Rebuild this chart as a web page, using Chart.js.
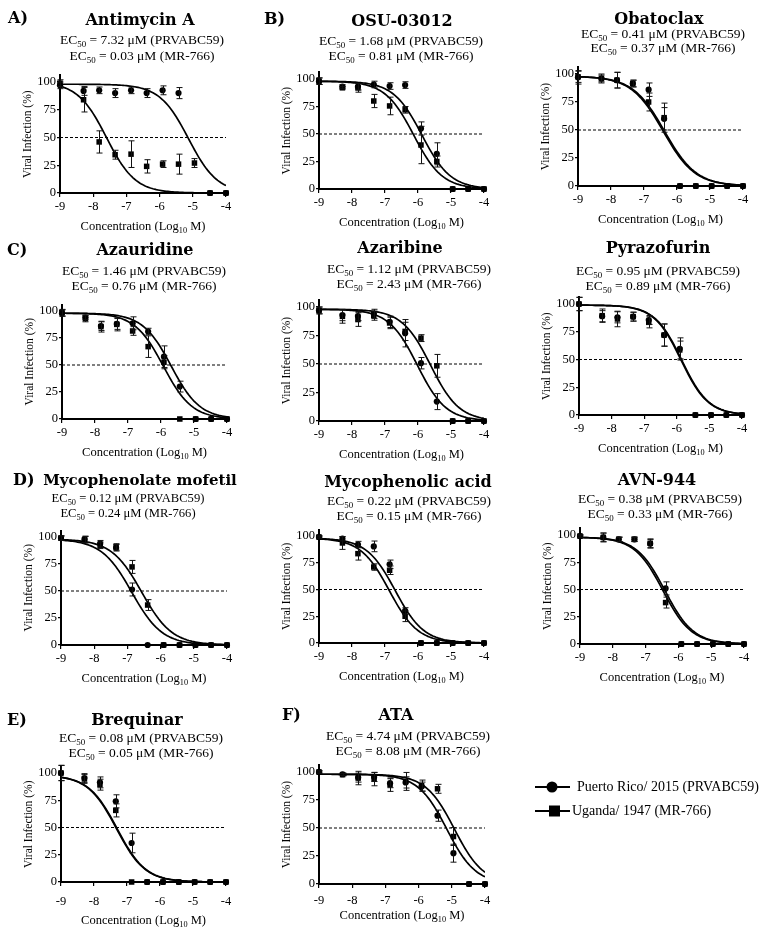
<!DOCTYPE html>
<html>
<head>
<meta charset="utf-8">
<script src="https://cdn.jsdelivr.net/npm/chart.js@4.4.1/dist/chart.umd.min.js"></script>
<style>
  html, body { margin: 0; padding: 0; background: #fff; }
  #figure { position: relative; width: 767px; height: 930px; }
  #figure canvas { position: absolute; left: 0; top: 0; }
</style>
</head>
<body>
<div id="figure"></div>
<script>
// log10 molar concentrations (the untreated control is plotted at -9)
const conc = [-9, -8.29, -7.82, -7.34, -6.86, -6.39, -5.91, -5.43, -4.95, -4.48, -4];
const xTicks = [-9, -8, -7, -6, -5, -4];
const yTicks = [0, 25, 50, 75, 100];

const drugNames = ['Antimycin A', 'OSU-03012', 'Obatoclax', 'Azauridine', 'Azaribine', 'Pyrazofurin',
    'Mycophenolate mofetil', 'Mycophenolic acid', 'AVN-944', 'Brequinar', 'ATA'];
const ec50PR = ['7.32', '1.68', '0.41', '1.46', '1.12', '0.95', '0.12', '0.22', '0.38', '0.08', '4.74'];
const ec50UG = ['0.03', '0.81', '0.37', '0.76', '2.43', '0.89', '0.24', '0.15', '0.33', '0.05', '8.08'];

// Puerto Rico/2015 (PRVABC59), circles: mean % infection per concentration
const prMean = [
    [97, 92, 92.5, 90, 92.5, 90, 92.5, 90, null, 0, 0],   // Antimycin A
    [98, 93, 93, 95, 93.6, 94.5, 55, 32, 0, 0, 0],        // OSU-03012
    [97, 96, 94.5, 91.5, 86, 60, 0, 0, 0, 0, 0],          // Obatoclax
    [98, 94, 86, 88, 88.6, 81, 57.7, 30, 0, 0, 0],        // Azauridine
    [97, 93, 92, 94, 87, 77, 50.7, 17, 0, 0, 0],          // Azaribine
    [100, 89, 88, 88.6, 85.6, 72, 59.5, 0, 0, 0, 0],      // Pyrazofurin
    [99, 97.8, 93.8, 90, 51.4, 0, 0, 0, 0, 0, 0],         // Mycophenolate mofetil
    [99, 97.5, 92, 90.3, 73.5, 30, 0, 0, 0, 0, 0],        // Mycophenolic acid
    [99, 97.8, 96, 96, 92, 51, 0, 0, 0, 0, 0],            // AVN-944
    [100, 95.4, 91.4, 74, 35.8, 0, 0, 0, 0, 0, 0],        // Brequinar
    [100, 98, 95, 95.5, 90, 90.7, 87, 61, 27.5, 0, 0]     // ATA
];
const prErr = [
    [3, 4, 3, 4, 3, 4, 4, 5, 0, 0, 0],
    [3, 2, 3, 3, 3, 3, 6, 10, 0, 0, 0],
    [6, 4, 7, 3, 6, 10, 0, 0, 0, 0, 0],
    [3, 2, 4, 5, 6, 3, 10, 5, 0, 0, 0],
    [3, 5, 4, 4, 5, 12, 5, 7, 0, 0, 0],
    [6, 5, 5, 4, 4, 10, 10, 0, 0, 0, 0],
    [2, 3, 3, 3, 6, 0, 0, 0, 0, 0, 0],
    [1, 2, 3, 5, 4, 3, 0, 0, 0, 0, 0],
    [1, 4, 2, 2, 4, 6, 0, 0, 0, 0, 0],
    [7, 4, 5, 6, 9, 0, 0, 0, 0, 0, 0],
    [1, 1, 4, 4, 4, 5, 4, 5, 8, 0, 0]
];

// Uganda/1947 (MR-766), squares
const ugMean = [
    [99, 84, 46, 34.5, 35, 24, 26, 26, 27, 0, 0],
    [98, 92, 92, 80, 75.5, 72, 40, 25, 0, 0, 0],
    [97.5, 96, 94.5, 91.5, 75, 61, 0, 0, 0, 0, 0],
    [98.5, 93, 85.5, 87.6, 81.5, 67, 52.5, 0, 0, 0, 0],
    [97, 91.8, 89, 92.4, 86, 78.6, 72.7, 48.4, 0, 0, 0],
    [100, 89.5, 86.5, 88.6, 83.5, 72, 58.6, 0, 0, 0, 0],
    [99, 97.5, 92.3, 90.8, 72.3, 37, 0, 0, 0, 0, 0],
    [99, 93.5, 83.5, 71, 68, 25, 0, 0, 0, 0, 0],
    [99, 97.8, 96, 96, 92.4, 38, 0, 0, 0, 0, 0],
    [100, 94.5, 89.3, 65.7, 0, 0, 0, 0, 0, 0, 0],
    [100, 97.6, 94.6, 93.7, 88.7, 91.6, 87.8, 85, 42.4, 0, 0]
];
const ugErr = [
    [3, 11, 10, 4, 12, 6, 3, 9, 4, 0, 0],
    [3, 1, 4, 6, 8, 3, 17, 5, 0, 0, 0],
    [5, 3, 7, 3, 8, 13, 0, 0, 0, 0, 0],
    [3, 3, 5, 6, 4, 10, 6, 0, 0, 0, 0],
    [3, 6, 6, 4, 5, 8, 3, 10, 0, 0, 0],
    [6, 6, 7, 4, 5, 10, 8, 0, 0, 0, 0],
    [2, 3, 3, 3, 6, 5, 0, 0, 0, 0, 0],
    [1, 6, 6, 3, 4, 5, 0, 0, 0, 0, 0],
    [1, 4, 2, 2, 4, 5, 0, 0, 0, 0, 0],
    [7, 4, 5, 6, 0, 0, 0, 0, 0, 0, 0],
    [1, 1, 6, 6, 6, 8, 5, 4, 8, 0, 0]
];

// fitted dose-response curves: [top, logEC50, hill slope]
const prFit = [[98, -5.13, 1], [98, -5.88, 1], [98, -6.38, 0.9], [98, -5.69, 1], [98, -6.02, 1], [99, -5.85, 1.05],
    [98, -6.87, 0.95], [98, -6.69, 1], [98, -6.41, 1], [98, -7.3, 1], [98, -5.15, 1]];
const ugFit = [[100, -7.6, 1], [98, -6.13, 1], [98, -6.42, 0.9], [98, -5.93, 1], [98, -5.62, 1], [99, -5.87, 1.05],
    [98, -6.57, 0.95], [98, -6.87, 1], [98, -6.47, 1], [98, -7.32, 1], [98, -4.92, 1]];

// where each panel sits on the page
const panels = [
    { letter: 'A)', lx: 8, ly: 23, left: 60, right: 226, y100: 82, y0: 193, titleX: 140, titleY: 25, ecX: 142, ec1Y: 44, ec2Y: 60 },
    { letter: 'B)', lx: 264, ly: 24, left: 319, right: 484, y100: 79, y0: 189, titleX: 402, titleY: 26, ecX: 401, ec1Y: 45, ec2Y: 60 },
    { letter: '', left: 578, right: 743, y100: 74, y0: 186, titleX: 659, titleY: 24, ecX: 663, ec1Y: 38, ec2Y: 52 },
    { letter: 'C)', lx: 7, ly: 255, left: 62, right: 227, y100: 311, y0: 419, titleX: 145, titleY: 255, ecX: 144, ec1Y: 275, ec2Y: 290 },
    { letter: '', left: 319, right: 484, y100: 307, y0: 421, titleX: 400, titleY: 253, ecX: 409, ec1Y: 273, ec2Y: 288 },
    { letter: '', left: 579, right: 742, y100: 304, y0: 415, titleX: 658, titleY: 253, ecX: 658, ec1Y: 275, ec2Y: 290 },
    { letter: 'D)', lx: 13, ly: 485, left: 61, right: 227, y100: 537, y0: 645, titleX: 140, titleY: 485, titleSize: 15, ecX: 128, ec1Y: 502, ec2Y: 517, ecSize: 12.6 },
    { letter: '', left: 319, right: 484, y100: 536, y0: 643, titleX: 408, titleY: 487, ecX: 409, ec1Y: 505, ec2Y: 520 },
    { letter: '', left: 580, right: 744, y100: 535, y0: 644, titleX: 657, titleY: 485, ecX: 660, ec1Y: 503, ec2Y: 518 },
    { letter: 'E)', lx: 7, ly: 725, left: 61, right: 226, y100: 773, y0: 882, titleX: 137, titleY: 725, ecX: 141, ec1Y: 742, ec2Y: 757, tickPad: 8, axisGap: 42 },
    { letter: 'F)', lx: 282, ly: 720, left: 319, right: 485, y100: 772, y0: 884, titleX: 396, titleY: 720, ecX: 408, ec1Y: 740, ec2Y: 755, tickPad: 5, axisGap: 35 }
];

const legendItems = [
    { label: 'Puerto Rico/ 2015 (PRVABC59)', style: 'circle', y: 787, tx: 577 },
    { label: 'Uganda/ 1947 (MR-766)', style: 'rect', y: 811, tx: 572 }
];

const SERIF = "'Liberation Serif', 'DejaVu Serif', serif";
const TITLE_FAMILY = "'DejaVu Serif', serif";
const PAGE_W = 767, PAGE_H = 930;
const Y_MAX = 106, Y_AXIS_W = 50, X_AXIS_H = 45;

// text with a lowered, smaller run (EC50, Log10)
function drawRich(ctx, parts, cx, y, size) {
    let w = 0;
    parts.forEach(([t, sub]) => {
        ctx.font = (sub ? size * 0.66 : size) + 'px ' + SERIF;
        w += ctx.measureText(t).width;
    });
    let x = cx - w / 2;
    ctx.textAlign = 'left';
    parts.forEach(([t, sub]) => {
        ctx.font = (sub ? size * 0.66 : size) + 'px ' + SERIF;
        ctx.fillText(t, x, sub ? y + size * 0.2 : y);
        x += ctx.measureText(t).width;
    });
}

const panelText = {
    id: 'panelText',
    afterDraw(chart, args, o) {
        const ctx = chart.ctx;
        const a = chart.chartArea;
        ctx.save();
        ctx.fillStyle = '#000';
        ctx.textBaseline = 'alphabetic';
        if (o.letter) {
            ctx.font = 'bold 16px ' + TITLE_FAMILY;
            ctx.textAlign = 'left';
            ctx.fillText(o.letter, o.lx, o.ly);
        }
        ctx.font = 'bold ' + (o.titleSize || 16) + 'px ' + TITLE_FAMILY;
        ctx.textAlign = 'center';
        ctx.fillText(o.title, o.titleX, o.titleY);
        const s = o.ecSize || 13.5;
        drawRich(ctx, [['EC'], ['50', true], [' = ' + o.pr + ' \u03bcM (PRVABC59)']], o.ecX, o.ec1Y, s);
        drawRich(ctx, [['EC'], ['50', true], [' = ' + o.ug + ' \u03bcM (MR-766)']], o.ecX, o.ec2Y, s);
        drawRich(ctx, [['Concentration (Log'], ['10', true], [' M)']], (a.left + a.right) / 2, a.bottom + (o.axisGap || 37), 12.5);
        ctx.restore();
    }
};

const errorBars = {
    id: 'errorBars',
    afterDatasetsDraw(chart) {
        const ctx = chart.ctx;
        const xs = chart.scales.x, ys = chart.scales.y;
        ctx.save();
        ctx.strokeStyle = '#111';
        ctx.lineWidth = 1;
        chart.data.datasets.forEach(ds => {
            if (!ds.withErrors) return;
            ds.data.forEach(pt => {
                if (!pt.err) return;
                const px = Math.round(xs.getPixelForValue(pt.x)) + 0.5;
                const top = ys.getPixelForValue(pt.y + pt.err);
                const bot = ys.getPixelForValue(Math.max(pt.y - pt.err, 0));
                ctx.beginPath();
                ctx.moveTo(px, top); ctx.lineTo(px, bot);
                ctx.moveTo(px - 3, top); ctx.lineTo(px + 3, top);
                ctx.moveTo(px - 3, bot); ctx.lineTo(px + 3, bot);
                ctx.stroke();
            });
        });
        ctx.restore();
    }
};

const figureLegend = {
    id: 'figureLegend',
    afterDraw(chart, args, o) {
        if (!o.show) return;
        const ctx = chart.ctx;
        ctx.save();
        ctx.fillStyle = '#000';
        ctx.strokeStyle = '#000';
        ctx.lineWidth = 2;
        ctx.font = '14px ' + SERIF;
        ctx.textBaseline = 'middle';
        legendItems.forEach(item => {
            ctx.beginPath();
            ctx.moveTo(535, item.y); ctx.lineTo(570, item.y);
            ctx.stroke();
            if (item.style === 'circle') {
                ctx.beginPath();
                ctx.arc(552, item.y, 5.5, 0, Math.PI * 2);
                ctx.fill();
            } else {
                ctx.fillRect(549, item.y - 5.5, 11, 11);
            }
            ctx.fillText(item.label, item.tx, item.y);
        });
        ctx.restore();
    }
};

function points(means, errs) {
    const out = [];
    conc.forEach((x, i) => {
        if (means[i] !== null) out.push({ x: x, y: means[i], err: errs[i] });
    });
    return out;
}

// four-parameter logistic with bottom 0, sampled across the x range
function fitCurve(fit) {
    const [top, logEC, hill] = fit;
    const out = [];
    for (let k = 0; k <= 100; k++) {
        const x = -9 + k * 0.05;
        out.push({ x: x, y: top / (1 + Math.pow(10, (x - logEC) * hill)) });
    }
    return out;
}

const fig = document.getElementById('figure');

panels.forEach((p, i) => {
    const canvas = document.createElement('canvas');
    canvas.width = PAGE_W;
    canvas.height = PAGE_H;
    fig.appendChild(canvas);

    const perUnit = (p.y0 - p.y100) / 100;
    const areaTop = p.y0 - Y_MAX * perUnit;
    const tickFont = { family: SERIF, size: 12.5 };

    new Chart(canvas.getContext('2d'), {
        type: 'scatter',
        data: {
            datasets: [
                {
                    label: 'Uganda/ 1947 (MR-766)',
                    data: points(ugMean[i], ugErr[i]),
                    withErrors: true,
                    pointStyle: 'rect',
                    pointRadius: 3.9,
                    backgroundColor: '#000',
                    borderColor: '#000',
                    borderWidth: 0,
                    clip: false,
                    order: 0
                },
                {
                    label: 'Puerto Rico/ 2015 (PRVABC59)',
                    data: points(prMean[i], prErr[i]),
                    withErrors: true,
                    pointStyle: 'circle',
                    pointRadius: 3.1,
                    backgroundColor: '#000',
                    borderColor: '#000',
                    borderWidth: 0,
                    clip: false,
                    order: 1
                },
                {
                    data: fitCurve(ugFit[i]),
                    showLine: true,
                    pointRadius: 0,
                    borderColor: '#000',
                    borderWidth: 1.7,
                    order: 2
                },
                {
                    data: fitCurve(prFit[i]),
                    showLine: true,
                    pointRadius: 0,
                    borderColor: '#000',
                    borderWidth: 1.7,
                    order: 3
                },
                {
                    data: [{ x: xTicks[0], y: 50 }, { x: xTicks[xTicks.length - 1], y: 50 }],
                    showLine: true,
                    pointRadius: 0,
                    borderColor: '#000',
                    borderWidth: 1,
                    borderDash: [3, 2],
                    order: 4
                }
            ]
        },
        options: {
            responsive: false,
            animation: false,
            events: [],
            layout: {
                padding: {
                    left: p.left - Y_AXIS_W,
                    right: PAGE_W - p.right,
                    top: areaTop,
                    bottom: PAGE_H - p.y0 - X_AXIS_H
                }
            },
            scales: {
                x: {
                    type: 'linear',
                    min: xTicks[0],
                    max: xTicks[xTicks.length - 1],
                    afterBuildTicks: s => { s.ticks = xTicks.map(v => ({ value: v })); },
                    afterFit: s => { s.height = X_AXIS_H; },
                    ticks: { font: tickFont, color: '#000', padding: p.tickPad || 2, maxRotation: 0, autoSkip: false },
                    grid: { drawOnChartArea: false, tickLength: 4, color: '#000', lineWidth: 1.2 },
                    border: { color: '#000', width: 2 }
                },
                y: {
                    min: 0,
                    max: Y_MAX,
                    afterBuildTicks: s => { s.ticks = yTicks.map(v => ({ value: v })); },
                    afterFit: s => { s.width = Y_AXIS_W; },
                    ticks: { font: tickFont, color: '#000', padding: 1 },
                    grid: { drawOnChartArea: false, tickLength: 3, color: '#000', lineWidth: 1.2 },
                    border: { color: '#000', width: 2 },
                    title: {
                        display: true,
                        text: 'Viral Infection (%)',
                        color: '#000',
                        font: { family: SERIF, size: 11.5 },
                        padding: { top: 11, bottom: 0 }
                    }
                }
            },
            plugins: {
                legend: { display: false },
                tooltip: { enabled: false },
                panelText: {
                    letter: p.letter, lx: p.lx, ly: p.ly,
                    title: drugNames[i], titleX: p.titleX, titleY: p.titleY, titleSize: p.titleSize,
                    pr: ec50PR[i], ug: ec50UG[i],
                    ecX: p.ecX, ec1Y: p.ec1Y, ec2Y: p.ec2Y, ecSize: p.ecSize,
                    axisGap: p.axisGap
                },
                figureLegend: { show: i === panels.length - 1 }
            }
        },
        plugins: [errorBars, panelText, figureLegend]
    });
});
</script>
</body>
</html>
